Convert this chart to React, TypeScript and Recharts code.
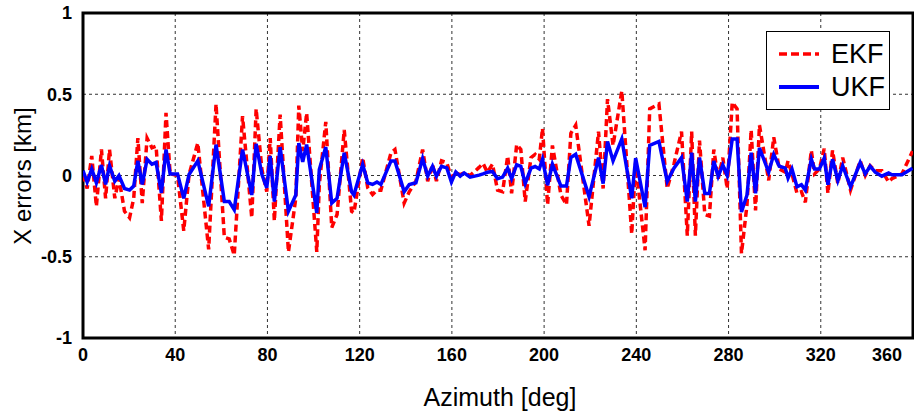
import { LineChart, Line, XAxis, YAxis, CartesianGrid, ReferenceArea, Legend } from 'recharts';

// azimuth [deg] of each sample
const azimuth = [
  0, 1.8, 3.8, 5.8, 8, 9.8, 11.5, 13.8, 15.6, 18, 20.2, 22, 23.8, 25.7, 27.8, 29.9, 31.7, 34, 36, 37.8,
  41, 43.7, 46, 49.8, 54.5, 57.7, 61.3, 63.4, 65.6, 69.2, 73.2, 75.1, 77.6, 79.7, 81.2, 83, 85.5, 89.1,
  92.3, 93.6, 95.3, 97, 101.4, 102.5, 105.3, 107.9, 110.2, 113.3, 116.5, 117.5, 121.3, 123.5, 125.6,
  127.5, 129.2, 133.6, 135.3, 139.3, 141.5, 144.4, 147.3, 149.5, 151.6, 153.3, 155.5, 157.8, 159.8,
  161.7, 163.6, 165.3, 167.9, 171.8, 173.5, 175.4, 177.6, 179.8, 182, 184.2, 185.9, 188.1, 189.9, 191.8,
  194.3, 196.1, 197.9, 199.3, 201.5, 203.6, 207.3, 209.7, 211.6, 213.7, 219.5, 223.6, 225.6, 227.5,
  229.9, 233.7, 238, 239.7, 243.8, 245.8, 249.8, 253.4, 256.3, 259.6, 262.1, 264, 265.6, 267.4, 269.7,
  271.7, 273.6, 275.5, 277.5, 279.4, 281.6, 283.7, 285.6, 288, 289.8, 291.7, 293.4, 297.4, 299.6, 302,
  304.6, 305.8, 307.5, 309.7, 311.6, 313.3, 315.9, 317.3, 319.4, 321.5, 323.1, 325.1, 327.4, 329.5,
  332.9, 337.1, 339.3, 341.4, 343.6, 346.5, 349.4, 350.8, 355.2, 359.8,
];

const ukf = [
  0.03, -0.04, 0.04, -0.045, 0.064, -0.055, 0.06, -0.035, 0, -0.08, -0.09, -0.065, 0.09, -0.055, 0.1, 0.07, 0.08, -0.107, 0.16, 0.01,
  0.01, -0.14, 0.006, 0.09, -0.19, 0.19, -0.16, -0.16, -0.21, 0.16, -0.12, 0.195, 0.006, -0.076, 0.12, -0.16, 0.175, -0.22,
  -0.12, 0.2, 0.084, 0.19, -0.23, 0.037, 0.175, -0.17, -0.14, 0.14, -0.1, -0.12, 0.068, -0.045, -0.055,
  -0.04, -0.055, 0.09, 0.09, -0.1, -0.055, -0.045, 0.105, -0.004, 0.057, -0.004, 0.057, 0.047, -0.04,
  0.022, -0.004, 0.016, -0.01, 0.002, 0.01, 0.02, 0.025, -0.02, -0.01, 0.045, -0.02, 0.066, 0.057, -0.05,
  0.045, 0.055, 0.04, 0.1, -0.06, 0.07, -0.065, -0.065, 0.11, 0.13, -0.13, 0.11, -0.05, 0.21,
  0.09, 0.225, -0.14, 0.107, -0.195, 0.185, 0.21, -0.037, 0.045, 0.11, -0.16, 0.14, -0.16, 0.11, -0.11,
  -0.11, 0.09, -0.005, 0.065, 0, 0.225, 0.225, -0.225, -0.12, 0.14, -0.11, 0.17, 0.02, 0.13, 0.057,
  0.045, -0.016, 0.04, -0.07, -0.057, -0.09, 0.1, 0.04, 0.04, 0.107, -0.057, 0.1, -0.03, 0.06,
  -0.07, 0.08, 0.01, 0.057, 0.02, -0.004, 0.016, 0.004, 0.004, 0.045,
];

const ekf = [
  0.006, -0.08, 0.12, -0.19, 0.16, -0.14, 0.16, -0.14, -0.015, -0.22, -0.26, -0.14, 0.23, -0.17, 0.23, 0.17, 0.18, -0.28, 0.385, 0.01,
  0, -0.34, 0.006, 0.2, -0.455, 0.44, -0.38, -0.39, -0.49, 0.365, -0.26, 0.41, 0.037, -0.1, 0.23, -0.28, 0.375, -0.47,
  -0.14, 0.43, 0.15, 0.385, -0.47, -0.055, 0.33, -0.32, -0.24, 0.28, -0.22, -0.23, 0.11, -0.076, -0.117,
  -0.09, -0.09, 0.14, 0.16, -0.17, -0.1, -0.035, 0.16, -0.035, 0.068, -0.035, 0.09, 0.078, -0.014,
  0.016, 0.006, 0.016, 0, 0.05, 0.075, 0.02, 0.07, -0.09, -0.1, 0.12, -0.11, 0.19, 0.16, -0.16,
  0.11, 0.13, 0.1, 0.29, -0.18, 0.185, -0.12, -0.18, 0.26, 0.31, -0.31, 0.27, -0.08, 0.47,
  0.185, 0.52, -0.36, 0.08, -0.46, 0.41, 0.44, -0.08, 0.07, 0.27, -0.37, 0.27, -0.37, 0.215, -0.24,
  -0.25, 0.16, -0.02, 0.11, -0.08, 0.45, 0.41, -0.48, -0.18, 0.28, -0.215, 0.31, -0.03, 0.235, 0.04,
  0.02, 0.09, 0.01, -0.11, -0.1, -0.165, 0.155, 0.01, 0.04, 0.165, -0.11, 0.155, -0.05, 0.11,
  -0.09, 0.09, 0, 0.06, 0.03, 0.03, -0.04, -0.02, 0.01, 0.15,
];

const xTicks = [0, 40, 80, 120, 160, 200, 240, 280, 320, 360];
const yTicks = [-1, -0.5, 0, 0.5, 1];

const data = azimuth.map((az, i) => ({ az, EKF: ekf[i], UKF: ukf[i] }));

const FONT = "'Liberation Sans', Arial, sans-serif";

function XTick({ x, y, payload }: any) {
  const last = payload.value === 360;
  return (
    <text
      x={x}
      y={y}
      dy="0.71em"
      textAnchor={last ? 'end' : 'middle'}
      fill="#000"
      fontSize={18}
      fontWeight="bold"
      fontFamily="'Liberation Sans Narrow', 'Liberation Sans', Arial, sans-serif"
    >
      {payload.value}
    </text>
  );
}

function LegendBox() {
  return (
    <div style={{
      width: 124, height: 79, border: '1px solid #000', background: '#fff',
      fontFamily: FONT, fontSize: 27, color: '#000', boxSizing: 'border-box',
    }}>
      <div style={{ display: 'flex', alignItems: 'center', height: 30, marginTop: 7 }}>
        <svg width={64} height={10}><line x1={12} y1={5} x2={52} y2={5} stroke="#ff0000" strokeWidth={3.5} strokeDasharray="8 4" /></svg>
        <span>EKF</span>
      </div>
      <div style={{ display: 'flex', alignItems: 'center', height: 30, marginTop: 3 }}>
        <svg width={64} height={10}><line x1={12} y1={5} x2={52} y2={5} stroke="#0000ff" strokeWidth={4} /></svg>
        <span>UKF</span>
      </div>
    </div>
  );
}

export default function App() {
  return (
    <div style={{ position: 'absolute', left: 0, top: 0, width: 914, height: 414, background: '#fff' }}>
      <LineChart width={914} height={414} data={data} margin={{ top: 13, right: 1, bottom: 46, left: 23 }}>
        <CartesianGrid stroke="#333" strokeDasharray="3 3" strokeWidth={1} />
        <XAxis
          dataKey="az" type="number" domain={[0, 360]} ticks={xTicks} allowDataOverflow
          height={30} tickSize={0} tickMargin={10} axisLine={false} tick={<XTick />}
        />
        <YAxis
          type="number" domain={[-1, 1]} ticks={yTicks} width={60} tickSize={0} tickMargin={11}
          axisLine={false}
          tick={{ fill: '#000', fontSize: 18, fontWeight: 'bold', fontFamily: FONT }}
        />
        <Legend
          layout="vertical" align="center" verticalAlign="middle"
          wrapperStyle={{ left: 766, top: 31, width: 124, height: 79 }}
          content={() => <LegendBox />}
        />
        <Line type="linear" dataKey="EKF" stroke="#ff0000" strokeWidth={3.5} strokeDasharray="7 4" dot={false} isAnimationActive={false} />
        <Line type="linear" dataKey="UKF" stroke="#0000ff" strokeWidth={3.5} dot={false} isAnimationActive={false} />
        <ReferenceArea x1={0} x2={360} y1={-1} y2={1} fill="none" stroke="#000" strokeWidth={3} ifOverflow="visible" />
      </LineChart>
      <div style={{
        position: 'absolute', left: 23, top: 176, transform: 'translate(-50%, -50%) rotate(-90deg)',
        whiteSpace: 'nowrap', fontFamily: FONT, fontSize: 24, color: '#000',
      }}>
        X errors [km]
      </div>
      <div style={{
        position: 'absolute', left: 500, top: 397, transform: 'translate(-50%, -50%)',
        whiteSpace: 'nowrap', fontFamily: FONT, fontSize: 25, color: '#000',
      }}>
        Azimuth [deg]
      </div>
    </div>
  );
}
